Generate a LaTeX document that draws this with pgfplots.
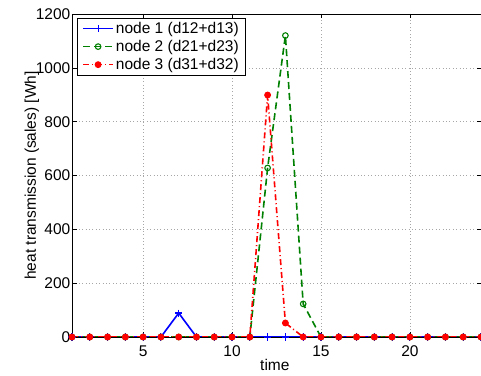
\documentclass[border=0pt]{standalone}
\usepackage{fontspec}
\setmainfont{Liberation Sans}
\usepackage{pgfplots}
\pgfplotsset{compat=1.18}
\definecolor{mgreen}{rgb}{0,0.5,0}
\begin{document}
\fontsize{15.5bp}{18bp}\selectfont
\begin{tikzpicture}
\useasboundingbox (0,0) rectangle (481bp,376bp);
\begin{axis}[
  at={(72bp,39bp)}, anchor=south west,
  scale only axis, width=409bp, height=323bp,
  xmin=1, xmax=24, ymin=0, ymax=1200,
  xtick={5,10,15,20}, ytick={0,200,...,1200},
  tick align=inside, major tick length=4.5bp,
  tick style={black, line width=0.6bp},
  axis line style={black, line width=0.8bp},
  grid=major,
  major grid style={gray!70, line width=0.5bp, dash pattern=on 0.8bp off 2.6bp},
  /pgf/number format/assume math mode=true,
  /pgf/number format/1000 sep={},
  ticklabel style={font=\fontsize{15.5bp}{18bp}\selectfont},
  xticklabel style={yshift=-3bp},
  yticklabel style={inner xsep=1.5bp},
  label style={font=\fontsize{15.5bp}{18bp}\selectfont},
  xlabel={time},
  xlabel style={at={(axis description cs:0.496,-0.105)}, anchor=base},
  ylabel={heat transmission (sales) [Wh]},
  ylabel style={at={(axis description cs:-0.098,0.5)}, anchor=center, rotate=0},
  legend cell align=left,
  legend style={at={(axis description cs:0.012,0.988)}, anchor=north west,
    font=\fontsize{15.5bp}{18bp}\selectfont, draw=black, line width=0.8bp, fill=white,
    inner xsep=5bp, inner ysep=1.5bp, row sep=0.5bp,
    nodes={inner sep=2bp}},
  legend image code/.code={\draw[mark repeat=2,mark phase=2,#1] plot coordinates {(0bp,0bp)(15bp,0bp)(30bp,0bp)};},
]
\addplot[blue, line width=1.6bp, mark=+, mark size=3.5bp, mark options={solid, line width=1.1bp}]
 coordinates {(1,0)(2,0)(3,0)(4,0)(5,0)(6,0)(7,89)(8,0)(9,0)(10,0)(11,0)(12,0)(13,0)(14,0)(15,0)(16,0)(17,0)(18,0)(19,0)(20,0)(21,0)(22,0)(23,0)(24,0)};
\addlegendentry{node 1 (d12+d13)}
\addplot[mgreen, line width=1.6bp, dash pattern=on 7bp off 4bp, mark=o, mark size=2.8bp, mark options={solid, line width=1.1bp}]
 coordinates {(1,0)(2,0)(3,0)(4,0)(5,0)(6,0)(7,0)(8,0)(9,0)(10,0)(11,0)(12,628)(13,1120)(14,123)(15,0)(16,0)(17,0)(18,0)(19,0)(20,0)(21,0)(22,0)(23,0)(24,0)};
\addlegendentry{node 2 (d21+d23)}
\addplot[red, line width=1.6bp, dash pattern=on 6bp off 3bp on 1bp off 3bp, mark=*, mark size=2.6bp, mark options={solid, fill=red, draw=red}]
 coordinates {(1,0)(2,0)(3,0)(4,0)(5,0)(6,0)(7,0)(8,0)(9,0)(10,0)(11,0)(12,899)(13,52)(14,0)(15,0)(16,0)(17,0)(18,0)(19,0)(20,0)(21,0)(22,0)(23,0)(24,0)};
\addlegendentry{node 3 (d31+d32)}
\end{axis}
\end{tikzpicture}
\end{document}
